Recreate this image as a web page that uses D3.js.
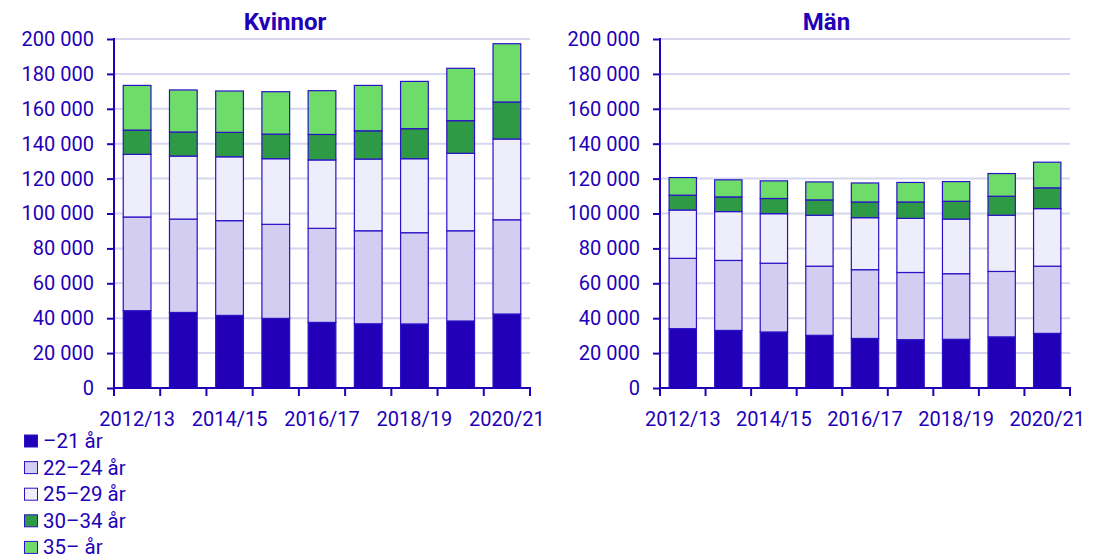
<!DOCTYPE html>
<html>
<head>
<meta charset="utf-8">
<script src="https://cdn.jsdelivr.net/npm/d3@7"></script>
<style>
  body { margin: 0; background: #fff; }
  svg text { font-family: Roboto, "Noto Sans", sans-serif; fill: #2200b8; }
</style>
</head>
<body>
<div id="chart"></div>
<script>
const YEARS = ['2012/13', '2013/14', '2014/15', '2015/16', '2016/17', '2017/18', '2018/19', '2019/20', '2020/21'];
const AGE_GROUPS = ['\u201321 år', '22\u201324 år', '25\u201329 år', '30\u201334 år', '35\u2013 år'];
const Y_TICKS = [0, 20000, 40000, 60000, 80000, 100000, 120000, 140000, 160000, 180000, 200000];

// Kvinnor, per age group
const KVINNOR_21 = [44300, 43300, 41600, 39900, 37600, 36800, 36700, 38400, 42400];
const KVINNOR_22_24 = [53700, 53500, 54300, 53900, 53900, 53300, 52300, 51700, 54000];
const KVINNOR_25_29 = [35900, 36100, 36600, 37600, 39200, 41100, 42400, 44400, 46300];
const KVINNOR_30_34 = [13900, 13800, 14000, 14100, 14600, 16200, 17200, 18700, 21200];
const KVINNOR_35 = [25600, 24100, 23700, 24300, 25100, 26000, 27100, 30000, 33400];

// Män, per age group
const MAN_21 = [34000, 33000, 32100, 30200, 28400, 27700, 27900, 29300, 31300];
const MAN_22_24 = [40300, 40100, 39400, 39600, 39400, 38500, 37600, 37500, 38500];
const MAN_25_29 = [27700, 28000, 28400, 29200, 29800, 31000, 31300, 32200, 33000];
const MAN_30_34 = [8500, 8400, 8700, 8800, 9000, 9400, 10200, 10900, 11900];
const MAN_35 = [10100, 9800, 10100, 10300, 10900, 11200, 11300, 13000, 14700];

const TEXT_COLOR = '#2200b8';
const COLORS = ['#2200b8', '#d2cdf1', '#eeedfc', '#2f9a45', '#6edc69'];
const GRID_COLOR = '#d6d6f0';

const WIDTH = 1097;
const HEIGHT = 560;
const PLOT_TOP = 39;
const PLOT_BOTTOM = 388;

const svg = d3.select('#chart').append('svg')
  .attr('width', WIDTH)
  .attr('height', HEIGHT);

const fmt = d3.formatLocale({ decimal: ',', thousands: ' ', grouping: [3], currency: ['', ''] }).format(',');

function makeRows(series)
{
  return YEARS.map(function(year, i) {
    var row = { year: year };
    AGE_GROUPS.forEach(function(g, k) { row[g] = series[k][i]; });
    return row;
  });
}

function drawPanel(title, series, left, right, labelLeft)
{
  var g = svg.append('g');
  var y = d3.scaleLinear().domain([0, 200000]).range([PLOT_BOTTOM, PLOT_TOP]);
  var x = d3.scaleBand().domain(YEARS).range([left, right]).paddingInner(0.4).paddingOuter(0.2);
  var step = x.step();

  // gridlines
  g.selectAll('line.grid')
    .data(Y_TICKS.filter(function(d) { return d > 0; }))
    .enter()
    .append('line')
    .attr('x1', left)
    .attr('x2', right)
    .attr('y1', function(d) { return y(d); })
    .attr('y2', function(d) { return y(d); })
    .style('stroke', GRID_COLOR)
    .style('stroke-width', 2);

  // stacked bars
  var stack = d3.stack().keys(AGE_GROUPS)(makeRows(series));
  g.selectAll('g.layer')
    .data(stack)
    .enter()
    .append('g')
    .style('fill', function(d, i) { return COLORS[i]; })
    .selectAll('rect')
    .data(function(d) { return d; })
    .enter()
    .append('rect')
    .attr('x', function(d) { return x(d.data.year); })
    .attr('width', x.bandwidth())
    .attr('y', function(d) { return y(d[1]); })
    .attr('height', function(d) { return y(d[0]) - y(d[1]); })
    .style('stroke', '#2a12c6')
    .style('stroke-width', 1.2);

  // y axis
  var yAxis = g.append('g')
    .attr('transform', 'translate(' + left + ',0)')
    .call(d3.axisLeft(y).tickValues(Y_TICKS).tickFormat(fmt).tickSize(7).tickPadding(13));
  yAxis.select('.domain').remove();
  yAxis.selectAll('line').style('stroke', TEXT_COLOR).style('stroke-width', 2);
  yAxis.selectAll('text').style('font-size', '20px').style('fill', TEXT_COLOR);
  g.append('line')
    .attr('x1', left).attr('x2', left)
    .attr('y1', PLOT_TOP - 1).attr('y2', PLOT_BOTTOM)
    .style('stroke', TEXT_COLOR).style('stroke-width', 2);

  // x axis line and band boundary ticks
  g.append('line')
    .attr('x1', left - 1).attr('x2', right + 1)
    .attr('y1', PLOT_BOTTOM).attr('y2', PLOT_BOTTOM)
    .style('stroke', TEXT_COLOR).style('stroke-width', 2);
  var bounds = YEARS.map(function(d) { return x(d) - step * 0.2; }).concat([right]);
  g.selectAll('line.xtick')
    .data(bounds)
    .enter()
    .append('line')
    .attr('x1', function(d) { return d; })
    .attr('x2', function(d) { return d; })
    .attr('y1', PLOT_BOTTOM)
    .attr('y2', PLOT_BOTTOM + 8)
    .style('stroke', TEXT_COLOR).style('stroke-width', 2);

  var xAxis = g.append('g')
    .attr('transform', 'translate(0,' + PLOT_BOTTOM + ')')
    .call(d3.axisBottom(x).tickValues(YEARS.filter(function(d, i) { return i % 2 == 0; })).tickSize(0).tickPadding(24));
  xAxis.select('.domain').remove();
  xAxis.selectAll('text').style('font-size', '20px').style('fill', TEXT_COLOR);

  // title
  g.append('text')
    .attr('x', (labelLeft + right) / 2)
    .attr('y', 30)
    .attr('text-anchor', 'middle')
    .style('font-size', '24px')
    .style('font-weight', 'bold')
    .text(title);
}

function drawLegend()
{
  var items = svg.append('g')
    .selectAll('g')
    .data(AGE_GROUPS)
    .enter()
    .append('g')
    .attr('transform', function(d, i) { return 'translate(24,' + (441 + i * 26.6) + ')'; });

  items.append('rect')
    .attr('x', 0.5)
    .attr('y', -6)
    .attr('width', 13)
    .attr('height', 12)
    .style('fill', function(d, i) { return COLORS[i]; })
    .style('stroke', '#2a12c6')
    .style('stroke-width', 1);

  items.append('text')
    .attr('x', 19)
    .attr('y', 7)
    .style('font-size', '20.5px')
    .text(function(d) { return d; });
}

drawPanel('Kvinnor', [KVINNOR_21, KVINNOR_22_24, KVINNOR_25_29, KVINNOR_30_34, KVINNOR_35], 114, 530, 40);
drawPanel('Män', [MAN_21, MAN_22_24, MAN_25_29, MAN_30_34, MAN_35], 660, 1070, 583);
drawLegend();
</script>
</body>
</html>
